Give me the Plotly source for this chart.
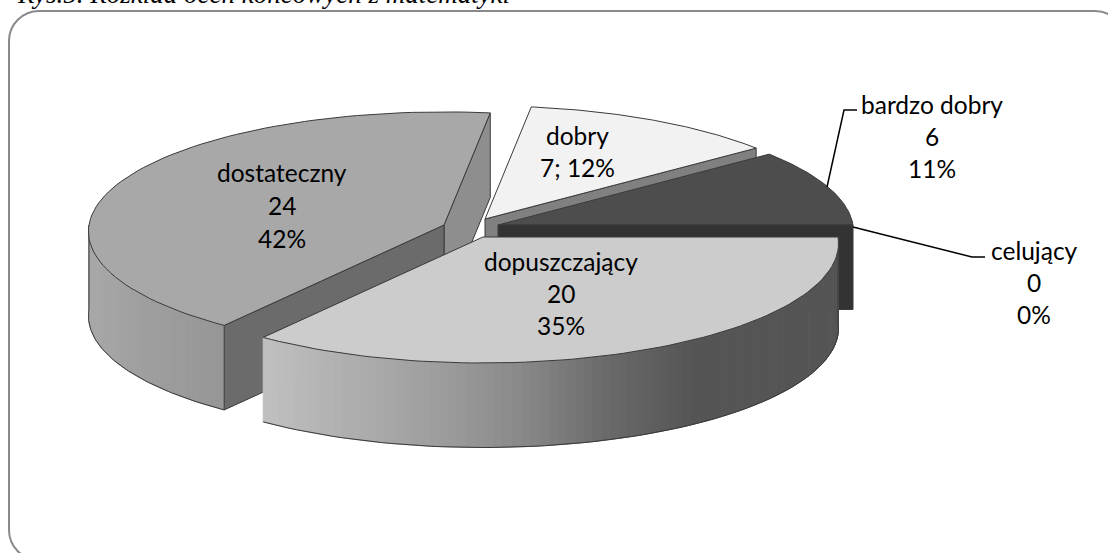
import math
import plotly.graph_objects as go

# Data
categories = ["celujący", "dopuszczający", "dostateczny", "dobry", "bardzo dobry"]
values = [0, 20, 24, 7, 6]

# Rendering parameters (not data)
RX, RY, K, DEPTH = 355.0, 119.2, 0.054, 84.5
centers = {"celujący": (498, 225), "dopuszczający": (483, 237), "dostateczny": (444, 225),
           "dobry": (485, 219), "bardzo dobry": (498, 225)}
top_col = {"dopuszczający": "#cccccc", "dostateczny": "#a8a8a8", "dobry": "#f2f2f2",
           "bardzo dobry": "#4d4d4d"}
EDGE = "#3a3a3a"

total = sum(values)
angles = {}
acc = 0.0
for c, v in zip(categories, values):
    angles[c] = (acc / total * 2 * math.pi, (acc + v) / total * 2 * math.pi)
    acc += v

def pt(c, th, dz=0.0):
    cx, cy = centers[c]
    s = math.sin(th)
    d = 1 - K * s
    return cx + RX * math.cos(th) / d, cy + RY * s / d + dz

def arc(c, a, b, dz=0.0, n=80):
    return [pt(c, a + (b - a) * i / n, dz) for i in range(n + 1)]

fig = go.Figure()

def poly(points, fill, line=EDGE, width=1.0):
    xs = [p[0] for p in points] + [points[0][0]]
    ys = [p[1] for p in points] + [points[0][1]]
    fig.add_trace(go.Scatter(x=xs, y=ys, mode="lines", fill="toself", fillcolor=fill,
                             line=dict(color=line, width=width), hoverinfo="skip", showlegend=False))

def outline(points, line=EDGE, width=1.0):
    fig.add_trace(go.Scatter(x=[p[0] for p in points], y=[p[1] for p in points], mode="lines",
                             line=dict(color=line, width=width), hoverinfo="skip", showlegend=False))

def end_wall(c, th, fill):
    ax, ay = centers[c]
    e = pt(c, th)
    poly([(ax, ay), e, (e[0], e[1] + DEPTH), (ax, ay + DEPTH)], fill)

def lerp_col(stops, t):
    t = max(0.0, min(1.0, t))
    g = stops[-1][1]
    for (t0, g0), (t1, g1) in zip(stops, stops[1:]):
        if t <= t1:
            g = g0 + (g1 - g0) * (t - t0) / (t1 - t0)
            break
    g = int(round(g))
    return f"rgb({g},{g},{g})"

stops_x = {"dopuszczający": (263, 840), "dostateczny": (88, 223)}

def outer_wall(c, a, b, stops, n=70):
    for i in range(n):
        t0, t1 = a + (b - a) * i / n, a + (b - a) * (i + 1) / n
        p0, p1 = pt(c, t0), pt(c, t1)
        xm = (p0[0] + p1[0]) / 2
        col = lerp_col(stops, (xm - stops_x[c][0]) / (stops_x[c][1] - stops_x[c][0]))
        sub = arc(c, t0, t1, n=2)
        pts = sub + [(p[0], p[1] + DEPTH) for p in reversed(sub)]
        poly(pts, col, line=col, width=1.0)
    outline(arc(c, a, b, DEPTH))

# dobry (back)
a, b = angles["dobry"]
end_wall("dobry", b, "#808080")
ax, ay = centers["dobry"]
poly([(ax, ay)] + arc("dobry", a, b), top_col["dobry"])

# bardzo dobry
a, b = angles["bardzo dobry"]
ax, ay = centers["bardzo dobry"]
poly([(ax, ay)] + arc("bardzo dobry", a, b), top_col["bardzo dobry"])

# celujący: a zero-sized slice, only its flat wall shows
a, _ = angles["celujący"]
end_wall("celujący", a, "#333333")

# dostateczny
a, b = angles["dostateczny"]
end_wall("dostateczny", b, "#8e8e8e")
outer_wall("dostateczny", a, math.pi, [(0, 168), (0.35, 160), (1, 150)], n=40)
fx, fy = pt("dostateczny", math.pi)
outline([(fx, fy), (fx, fy + DEPTH)])
end_wall("dostateczny", a, "#6b6b6b")
ax, ay = centers["dostateczny"]
poly([(ax, ay)] + arc("dostateczny", a, b), top_col["dostateczny"])

# dopuszczający (front)
a, b = angles["dopuszczający"]
stops = [(0, 192), (0.32, 155), (0.45, 136), (0.6, 105), (0.74, 85), (1, 85)]
outer_wall("dopuszczający", a, b, stops, n=90)
p = pt("dopuszczający", a)
outline([p, (p[0], p[1] + DEPTH)])
ax, ay = centers["dopuszczający"]
poly([(ax, ay)] + arc("dopuszczający", a, b), top_col["dopuszczający"], width=1.0)

# Leader lines
outline([(827, 187), (844, 110), (857, 110)], line="#000000", width=1.5)
outline([(853, 227), (972, 257), (985, 257)], line="#000000", width=1.5)

FONT = "Lato"
FS = 24.5
ann = []
def label(x, y, text, size=FS, family=FONT, xanchor="center", yshift=0):
    ann.append(dict(x=x, y=y, text=text, showarrow=False, xref="x", yref="y",
                    font=dict(family=family, size=size, color="#000000"),
                    xanchor=xanchor, yanchor="middle", yshift=yshift))

label_pos = {"dopuszczający": (561, [261, 293, 325]), "dostateczny": (282, [172, 205, 238]),
             "bardzo dobry": (932, [104, 136, 168]), "celujący": (1034, [250, 282, 314])}
for c, v in zip(categories, values):
    pct = f"{round(v / total * 100)}%"
    if c == "dobry":
        label(577, 135, c)
        label(577, 167, f"{v}; {pct}")
    else:
        x, ys = label_pos[c]
        for y, t in zip(ys, [c, str(v), pct]):
            label(x, y, t)

label(15, 0, "<i>Rys.5. Rozkład ocen końcowych z matematyki</i>", size=27, family="Liberation Serif",
      xanchor="left", yshift=6)

# Frame: its right and bottom sides lie past the edge of the picture
L, T, R, B, r = 9, 11, 1125, 560, 30
c = 0.45 * r
frame = (f"M {L+r} {T} L {R-r} {T} C {R-c} {T} {R} {T+c} {R} {T+r} L {R} {B-r} C {R} {B-c} {R-c} {B} {R-r} {B} "
         f"L {L+r} {B} C {L+c} {B} {L} {B-c} {L} {B-r} L {L} {T+r} C {L} {T+c} {L+c} {T} {L+r} {T} Z")

fig.update_layout(
    width=1108, height=553, margin=dict(l=0, r=0, t=0, b=0),
    paper_bgcolor="#ffffff", plot_bgcolor="#ffffff",
    xaxis=dict(range=[0, 1108], visible=False, fixedrange=True),
    yaxis=dict(range=[553, 0], visible=False, fixedrange=True),
    annotations=ann,
    shapes=[dict(type="path", path=frame, line=dict(color="#8a8a8a", width=2), layer="below",
                 xref="x", yref="y")],
)
fig.write_html("out.html", config={"displayModeBar": False},
               post_script="document.body.style.margin='0';document.body.style.overflow='hidden';")
